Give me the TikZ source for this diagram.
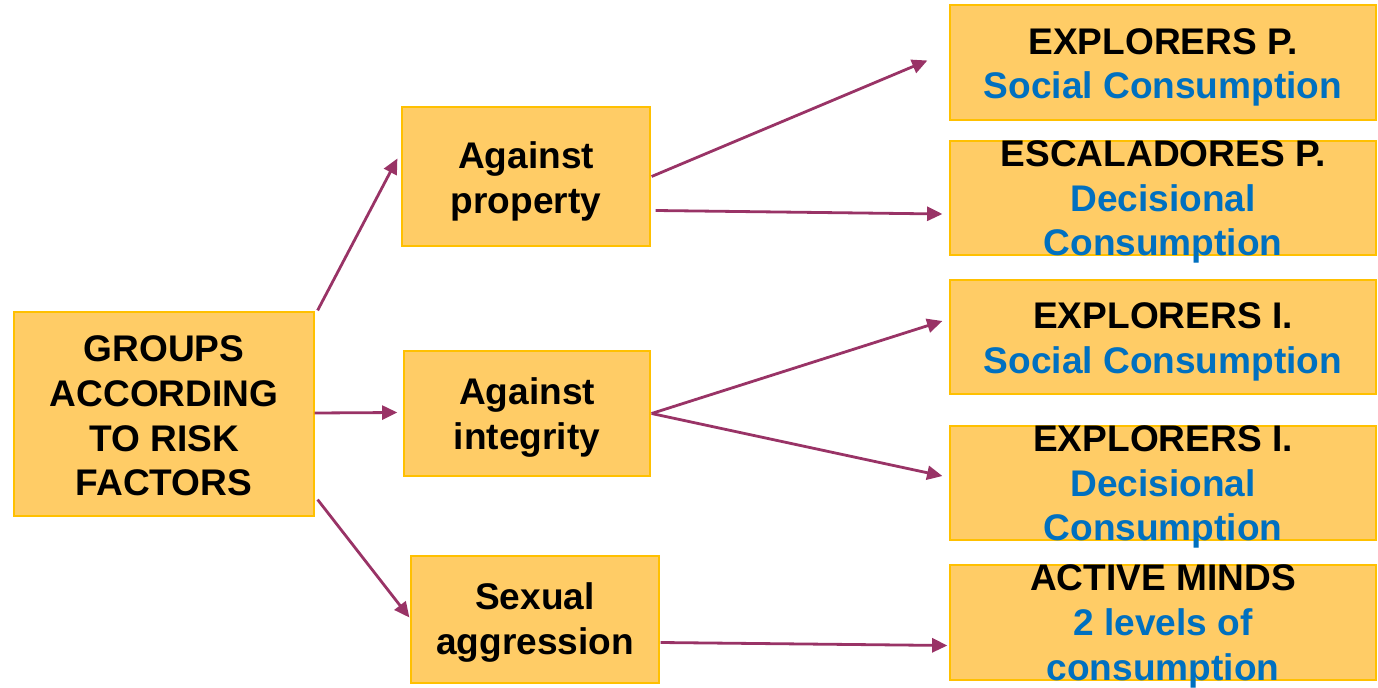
\documentclass[tikz,border=0pt]{standalone}
\usepackage{fontspec}
\setmainfont{Liberation Sans}
\usetikzlibrary{arrows.meta,fit,calc}
\definecolor{boxfill}{HTML}{FFCC66}
\definecolor{boxline}{HTML}{FFC000}
\definecolor{arrcol}{HTML}{993366}
\definecolor{txtblue}{HTML}{0070C0}
\begin{document}
\begin{tikzpicture}[x=0.75pt,y=-0.75pt,
  box/.style={draw=boxline,fill=boxfill,line width=0.9pt,inner sep=0pt,rectangle},
  txt/.style={align=center,font=\fontsize{27.8pt}{33.6pt}\selectfont\bfseries,inner sep=0pt},
  arr/.style={draw=arrcol,line width=2.1pt,-{Triangle[length=11.5pt,width=10.5pt]}},
  sub/.style={text=txtblue}]
\useasboundingbox (0,0) rectangle (1378,688);
% boxes
\node[box,fit={(14,312)(314,516)}] (g) {};
\node[box,fit={(402,107)(650,246)}] (prop) {};
\node[box,fit={(404,351)(650,476)}] (integ) {};
\node[box,fit={(411,556)(659,683)}] (sex) {};
\node[box,fit={(950,5)(1376,120)}] (ep) {};
\node[box,fit={(950,141)(1376,255)}] (esc) {};
\node[box,fit={(950,280)(1376,394)}] (eis) {};
\node[box,fit={(950,426)(1376,540)}] (eid) {};
\node[box,fit={(950,565)(1376,680)}] (am) {};
% texts
\node[txt] (gt) at ($(g.center)+(0,2)$) {GROUPS\\ACCORDING\\TO RISK\\FACTORS};
\node[txt] (propt) at ($(prop.center)+(0,5)$) {Against\\property};
\node[txt] (integt) at ($(integ.center)+(0,4)$) {Against\\integrity};
\node[txt] (sext) at ($(sex.center)+(0,3)$) {Sexual\\aggression};
\node[txt] (ept) at ($(ep.center)+(0,5)$) {EXPLORERS P.\\\textcolor{txtblue}{Social Consumption}};
\node[txt] (esct) at ($(esc.center)+(0,4)$) {ESCALADORES P.\\\textcolor{txtblue}{Decisional}\\\textcolor{txtblue}{Consumption}};
\node[txt] (eist) at ($(eis.center)+(0,5)$) {EXPLORERS I.\\\textcolor{txtblue}{Social Consumption}};
\node[txt] (eidt) at ($(eid.center)+(0,4)$) {EXPLORERS I.\\\textcolor{txtblue}{Decisional}\\\textcolor{txtblue}{Consumption}};
\node[txt] (amt) at ($(am.center)+(0,4)$) {ACTIVE MINDS\\\textcolor{txtblue}{2 levels of}\\\textcolor{txtblue}{consumption}};
% arrows
\draw[arr] ($(g.north east)+(3,-1)$) -- ($(prop.west)+(-4,-18)$);
\draw[arr] ($(g.east)+(0,-1)$) -- ($(integ.west)+(-6,-1)$);
\draw[arr] ($(g.south east)+(3,-17)$) -- ($(sex.west)+(-1,-2)$);
\draw[arr] ($(prop.east)+(1,0)$) -- ($(ep.west)+(-22,-2)$);
\draw[arr] ($(prop.east)+(5,34)$) -- ($(esc.west)+(-7,16)$);
\draw[arr] ($(integ.east)+(1,0)$) -- ($(eis.west)+(-7,-16)$);
\draw[arr] ($(integ.east)+(1,0)$) -- ($(eid.west)+(-7,-7)$);
\draw[arr] ($(sex.east)+(1,23)$) -- ($(am.west)+(-2,23)$);
\end{tikzpicture}
\end{document}
